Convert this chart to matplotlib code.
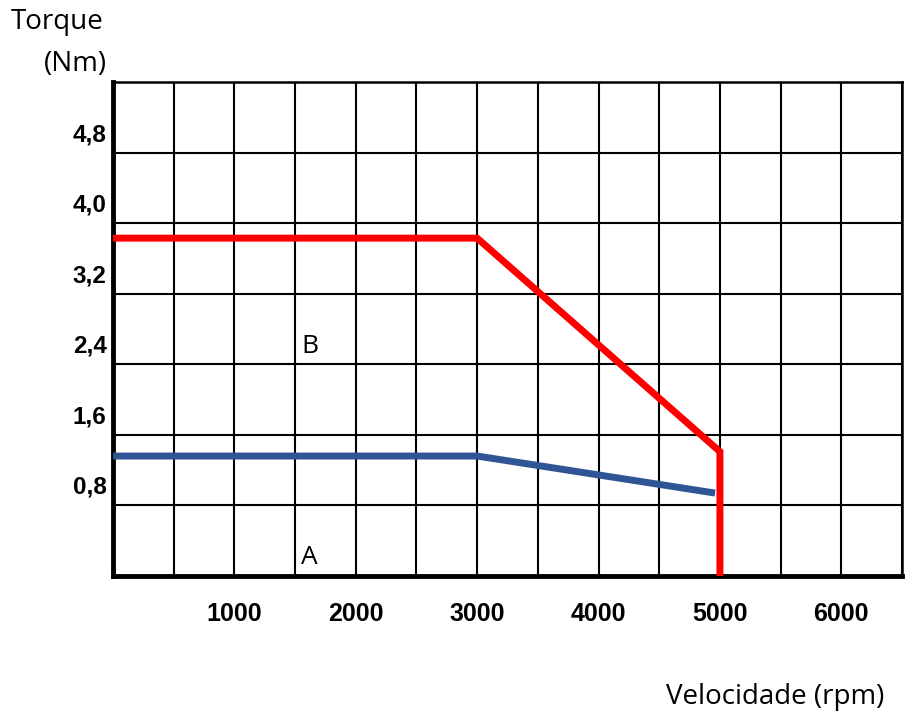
import matplotlib.pyplot as plt
from matplotlib.transforms import ScaledTranslation

# dados
velocidade_a = [0, 3000, 4960]
torque_a = [1.36, 1.36, 0.94]

velocidade_b = [0, 3000, 5000, 5000]
torque_b = [3.83, 3.83, 1.41, 0]

grade_x = list(range(0, 6501, 500))
rotulos_x = ["1000", "2000", "3000", "4000", "5000", "6000"]
grade_y = [0, 0.8, 1.6, 2.4, 3.2, 4.0, 4.8, 5.6]
rotulos_y = ["0,8", "1,6", "2,4", "3,2", "4,0", "4,8"]

fig = plt.figure(figsize=(9.06, 7.2), dpi=100)
ax = fig.add_axes([0.1247, 0.2, 0.8709, 0.6861])

ax.plot(velocidade_b, torque_b, color="#ff0000", lw=5, solid_capstyle="butt",
        solid_joinstyle="miter", zorder=3)
ax.plot(velocidade_a, torque_a, color="#2f5597", lw=5, solid_capstyle="butt", zorder=3)

ax.set_xlim(0, 6500)
ax.set_ylim(0, 5.6)

# grade
ax.set_xticks(grade_x)
ax.set_yticks(grade_y)
ax.set_xticklabels([])
ax.set_yticklabels([])
ax.tick_params(length=0)
ax.grid(True, color="black", lw=1.5)
ax.set_axisbelow(True)

for s in ["top", "right"]:
    ax.spines[s].set_linewidth(1.8)
for s in ["left", "bottom"]:
    ax.spines[s].set_linewidth(3.5)

# rótulos dos eixos (deslocados como no original)
xt = ax.get_xaxis_transform()
for i, r in enumerate(rotulos_x):
    ax.text((i + 1) * 1000, -0.077, r, transform=xt, ha="center", va="center",
            fontsize=18, fontweight="bold", family="Liberation Sans")

desloca = ScaledTranslation(0, 13 / 72, fig.dpi_scale_trans)
yt = ax.get_yaxis_transform() + desloca
for i, r in enumerate(rotulos_y):
    ax.text(-0.008, grade_y[i + 1], r, transform=yt, ha="right", va="center",
            fontsize=17.5, fontweight="bold", family="Liberation Sans")

ax.text(1550, 2.6, "B", fontsize=19, family="Open Sans", ha="left", va="center")
ax.text(1550, 0.215, "A", fontsize=19, family="Open Sans", ha="left", va="center")

fig.text(57 / 906, 1 - 22 / 720, "Torque", fontsize=20, family="Open Sans",
         ha="center", va="center")
fig.text(107 / 906, 1 - 64 / 720, "(Nm)", fontsize=20, family="Open Sans",
         ha="right", va="center")
fig.text(884 / 906, 1 - 697 / 720, "Velocidade (rpm)", fontsize=20, family="Open Sans",
         ha="right", va="center")

fig.savefig("out.png", dpi=100)
